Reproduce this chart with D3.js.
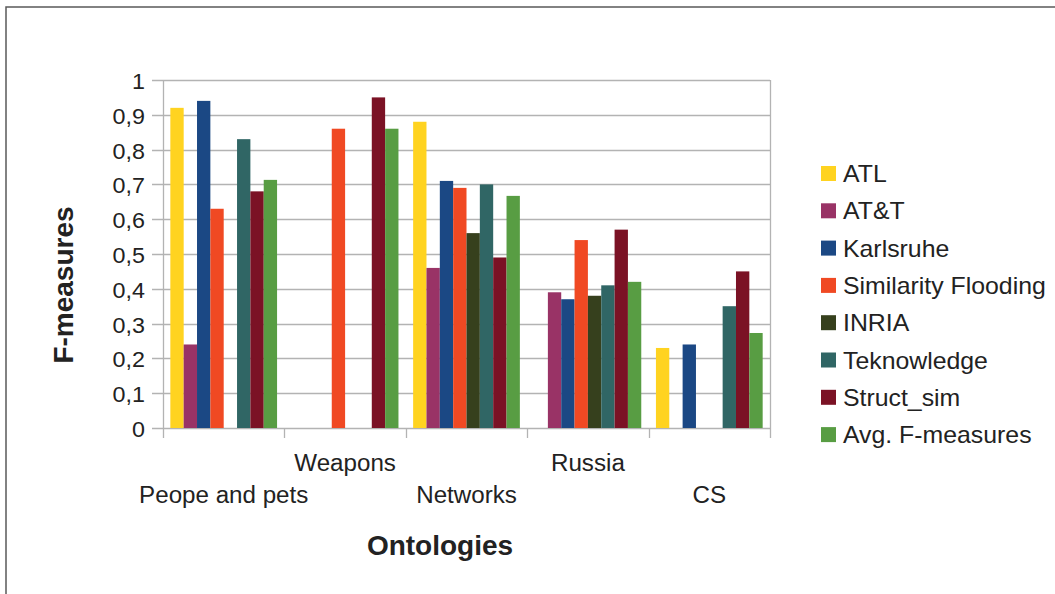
<!DOCTYPE html>
<html>
<head>
<meta charset="utf-8">
<script src="https://cdn.jsdelivr.net/npm/d3@7"></script>
<style>
  html, body { margin: 0; padding: 0; background: #fff; }
  svg { display: block; font-family: "Liberation Sans", Arial, sans-serif; }
</style>
</head>
<body>
<svg id="chart" width="1055" height="594"></svg>
<script>
// Ontologies on the x axis
const categories = ["Peope and pets", "Weapons", "Networks", "Russia", "CS"];

// Matching systems (legend order)
const seriesNames = ["ATL", "AT&T", "Karlsruhe", "Similarity Flooding", "INRIA",
                     "Teknowledge", "Struct_sim", "Avg. F-measures"];
const seriesColors = ["#ffd320", "#993366", "#1b4884", "#f04923", "#36401d",
                      "#306665", "#7b1225", "#589d43"];

// F-measure per ontology, one array per system
const ATL        = [0.92, 0,    0.88, 0,    0.23];
const ATT        = [0.24, 0,    0.46, 0.39, 0];
const Karlsruhe  = [0.94, 0,    0.71, 0.37, 0.24];
const SimFlood   = [0.63, 0.86, 0.69, 0.54, 0];
const INRIA      = [0,    0,    0.56, 0.38, 0];
const Teknowledge= [0.83, 0,    0.70, 0.41, 0.35];
const StructSim  = [0.68, 0.95, 0.49, 0.57, 0.45];
const AvgF       = [0.713, 0.86, 0.667, 0.42, 0.273];

const yTicks = [0, 0.1, 0.2, 0.3, 0.4, 0.5, 0.6, 0.7, 0.8, 0.9, 1];

const seriesValues = [ATL, ATT, Karlsruhe, SimFlood, INRIA, Teknowledge, StructSim, AvgF];

const svg = d3.select("#chart");
const plot = { left: 163, right: 770, top: 80, bottom: 428 };
const gridColor = "#b3b3b3";
const textColor = "#222";

// text placed at (x, y), slightly widened horizontally
const wide = (x, y, k) => `translate(${x},${y}) scale(${k},1)`;

// outer frame (top and left edges)
svg.append("path")
  .attr("d", "M6,594 L6,7 L1055,7")
  .attr("fill", "none").attr("stroke", "#5a5a5a").attr("stroke-width", 1.5);

const y = d3.scaleLinear().domain([0, 1]).range([plot.bottom, plot.top]);
const x0 = d3.scaleBand().domain(categories).range([plot.left, plot.right]).padding(0);
const x1 = d3.scaleBand().domain(seriesNames).range([0, x0.bandwidth()])
  .paddingInner(0).paddingOuter(0.55);

const fmt = v => d3.format(".1~f")(v).replace(".", ",");

// horizontal grid lines with outward ticks
svg.append("g").selectAll("line").data(yTicks).join("line")
  .attr("x1", plot.left - 11).attr("x2", plot.right)
  .attr("y1", d => Math.round(y(d)) + 0.5).attr("y2", d => Math.round(y(d)) + 0.5)
  .attr("stroke", gridColor).attr("stroke-width", 1.3);

// y tick labels
svg.append("g").selectAll("text").data(yTicks).join("text")
  .attr("transform", d => wide(145, y(d) + 9, 1.06))
  .attr("text-anchor", "end")
  .attr("font-size", 22).attr("fill", textColor)
  .text(fmt);

// plot frame: left axis, right edge
svg.append("line")
  .attr("x1", plot.left + 0.5).attr("x2", plot.left + 0.5)
  .attr("y1", plot.top).attr("y2", plot.bottom + 10)
  .attr("stroke", gridColor).attr("stroke-width", 1.3);
svg.append("line")
  .attr("x1", plot.right + 0.5).attr("x2", plot.right + 0.5)
  .attr("y1", plot.top).attr("y2", plot.bottom + 10)
  .attr("stroke", gridColor).attr("stroke-width", 1.3);

// x category boundary ticks
const bounds = categories.slice(1).map(c => x0(c));
svg.append("g").selectAll("line").data(bounds).join("line")
  .attr("x1", d => Math.round(d) + 0.5).attr("x2", d => Math.round(d) + 0.5)
  .attr("y1", plot.bottom).attr("y2", plot.bottom + 10)
  .attr("stroke", gridColor).attr("stroke-width", 1.3);

// bars
const groups = svg.append("g").selectAll("g").data(categories).join("g")
  .attr("transform", c => `translate(${x0(c)},0)`);
groups.selectAll("rect")
  .data((c, ci) => seriesNames.map((s, si) => ({ s, si, v: seriesValues[si][ci] })))
  .join("rect")
  .attr("x", d => x1(d.s))
  .attr("width", x1.bandwidth())
  .attr("y", d => y(d.v))
  .attr("height", d => y(0) - y(d.v))
  .attr("fill", d => seriesColors[d.si]);

// staggered category labels
svg.append("g").selectAll("text").data(categories).join("text")
  .attr("transform", (c, i) => wide(x0(c) + x0.bandwidth() / 2, i % 2 === 1 ? 471 : 503, 1.05))
  .attr("text-anchor", "middle")
  .attr("font-size", 23).attr("fill", textColor)
  .text(c => c);

// axis titles
svg.append("text")
  .attr("transform", "translate(73,285) rotate(-90)")
  .attr("text-anchor", "middle")
  .attr("font-size", 28).attr("font-weight", "bold").attr("fill", textColor)
  .text("F-measures");
svg.append("text")
  .attr("x", 440).attr("y", 555)
  .attr("text-anchor", "middle")
  .attr("font-size", 28).attr("font-weight", "bold").attr("fill", textColor)
  .text("Ontologies");

// legend
const legend = svg.append("g").selectAll("g").data(seriesNames).join("g")
  .attr("transform", (s, i) => `translate(821,${166 + i * 37.3})`);
legend.append("rect")
  .attr("width", 15).attr("height", 15)
  .attr("fill", (s, i) => seriesColors[i]);
legend.append("text")
  .attr("transform", wide(22, 16, 1.08))
  .attr("font-size", 23).attr("fill", textColor)
  .text(s => s);
</script>
</body>
</html>
